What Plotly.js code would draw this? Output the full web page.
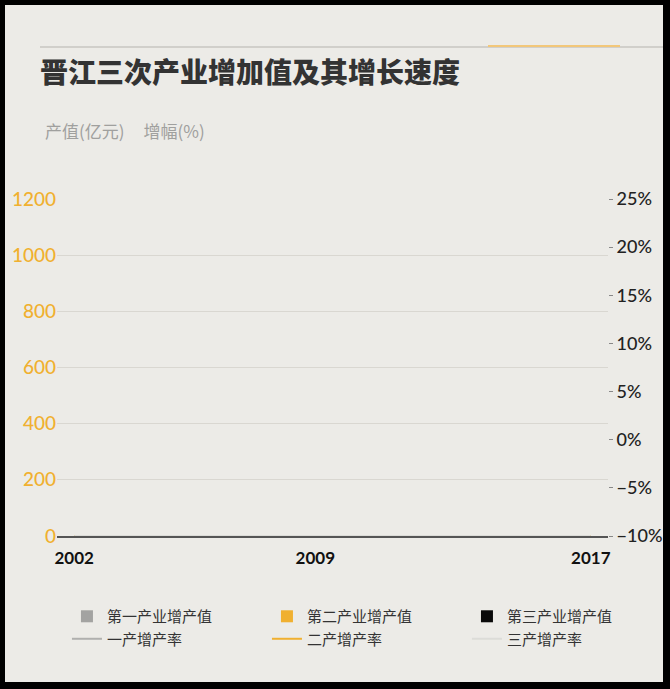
<!DOCTYPE html>
<html>
<head>
<meta charset="utf-8">
<script src="https://cdn.plot.ly/plotly-3.0.1.min.js"></script>
<style>
  html, body { margin: 0; padding: 0; background: #000; width: 670px; height: 689px; overflow: hidden; }
  #chart { position: absolute; left: 5px; top: 5px; width: 658px; height: 677px; }
</style>
</head>
<body>
<div id="chart"></div>
<script>
// years on the x axis
const years = ['2002', '2003', '2004', '2005', '2006', '2007', '2008', '2009',
               '2010', '2011', '2012', '2013', '2014', '2015', '2016', '2017'];

// added value (亿元) - the bars have not grown yet in the picture
const primaryValue   = [0, 0, 0, 0, 0, 0, 0, 0, 0, 0, 0, 0, 0, 0, 0, 0];
const secondaryValue = [0, 0, 0, 0, 0, 0, 0, 0, 0, 0, 0, 0, 0, 0, 0, 0];
const tertiaryValue  = [0, 0, 0, 0, 0, 0, 0, 0, 0, 0, 0, 0, 0, 0, 0, 0];

// growth rates (%) - lines still sit on the bottom of the right axis
const primaryRate   = [-10, -10, -10, -10, -10, -10, -10, -10, -10, -10, -10, -10, -10, -10, -10, -10];
const secondaryRate = [-10, -10, -10, -10, -10, -10, -10, -10, -10, -10, -10, -10, -10, -10, -10, -10];
const tertiaryRate  = [-10, -10, -10, -10, -10, -10, -10, -10, -10, -10, -10, -10, -10, -10, -10, -10];

const shownYears = ['2002', '2009', '2017'];

const grey = '#a3a3a1';
const orange = '#f0b030';
const black = '#0a0a0a';
const cjk = '"Noto Sans CJK SC", "Noto Sans", sans-serif';
const num = 'Lato, "Open Sans", sans-serif';

const traces = [
    { type: 'bar', name: '第一产业增产值', x: years, y: primaryValue, marker: { color: grey } },
    { type: 'bar', name: '第二产业增产值', x: years, y: secondaryValue, marker: { color: orange } },
    { type: 'bar', name: '第三产业增产值', x: years, y: tertiaryValue, marker: { color: black } },
    { type: 'scatter', mode: 'lines', name: '一产增产率', x: years, y: primaryRate, yaxis: 'y2',
      line: { color: '#b0b0ae', width: 2 } },
    { type: 'scatter', mode: 'lines', name: '二产增产率', x: years, y: secondaryRate, yaxis: 'y2',
      line: { color: orange, width: 2 } },
    { type: 'scatter', mode: 'lines', name: '三产增产率', x: years, y: tertiaryRate, yaxis: 'y2',
      line: { color: '#dcdcd8', width: 2 } },
];

const layout = {
    width: 658,
    height: 677,
    paper_bgcolor: '#ecebe7',
    plot_bgcolor: 'rgba(0,0,0,0)',
    margin: { l: 52, r: 55, t: 194, b: 146, autoexpand: false },
    barmode: 'group',
    title: {
        text: '晋江三次产业增加值及其增长速度',
        x: 35 / 658, xanchor: 'left',
        y: 1 - 68 / 677, yanchor: 'middle',
        font: { family: cjk, size: 28, weight: 900, color: '#333' },
    },
    xaxis: {
        type: 'category',
        tickvals: shownYears,
        ticktext: shownYears,
        showgrid: false,
        showline: true,
        linecolor: '#555',
        linewidth: 2,
        ticks: '',
        ticklabelstandoff: 6,
        tickfont: { family: num, size: 17, weight: 'bold', color: '#111' },
        fixedrange: true,
    },
    yaxis: {
        range: [0, 1200],
        dtick: 200,
        showgrid: true,
        gridcolor: '#d9d7d1',
        gridwidth: 1,
        zeroline: false,
        ticks: '',
        tickfont: { family: num, size: 19, weight: 500, color: orange },
        fixedrange: true,
    },
    yaxis2: {
        overlaying: 'y',
        side: 'right',
        range: [-10, 25],
        dtick: 5,
        ticksuffix: '%',
        showgrid: false,
        zeroline: false,
        ticks: 'outside',
        ticklen: 4,
        tickcolor: '#888',
        tickfont: { family: num, size: 18, weight: 500, color: '#222' },
        fixedrange: true,
    },
    showlegend: true,
    legend: {
        orientation: 'h',
        x: 1.107, xanchor: 'right',
        y: -0.19, yanchor: 'top',
        entrywidth: 155,
        entrywidthmode: 'pixels',
        itemwidth: 30,
        traceorder: 'normal',
        bgcolor: 'rgba(0,0,0,0)',
        font: { family: cjk, size: 15, color: '#333' },
    },
    shapes: [
        { type: 'line', xref: 'paper', yref: 'paper',
          x0: (35 - 52) / 551, x1: (658 - 52) / 551,
          y0: (531 - 42) / 337, y1: (531 - 42) / 337,
          line: { color: '#b5b3ae', width: 1 } },
        { type: 'line', xref: 'paper', yref: 'paper',
          x0: (483 - 52) / 551, x1: (615 - 52) / 551,
          y0: (531 - 41) / 337, y1: (531 - 41) / 337,
          line: { color: '#f2c77a', width: 2 } },
    ],
    annotations: [
        { text: '产值(亿元)&nbsp;&nbsp;&nbsp;&nbsp;&nbsp;增幅(%)', xref: 'paper', yref: 'paper',
          x: (38 - 52) / 551, xanchor: 'left',
          y: (531 - 126) / 337, yanchor: 'middle',
          showarrow: false,
          font: { family: cjk, size: 17, color: '#a0a09e' } },
    ],
};

Plotly.newPlot('chart', traces, layout, { displayModeBar: false, staticPlot: true });
</script>
</body>
</html>
